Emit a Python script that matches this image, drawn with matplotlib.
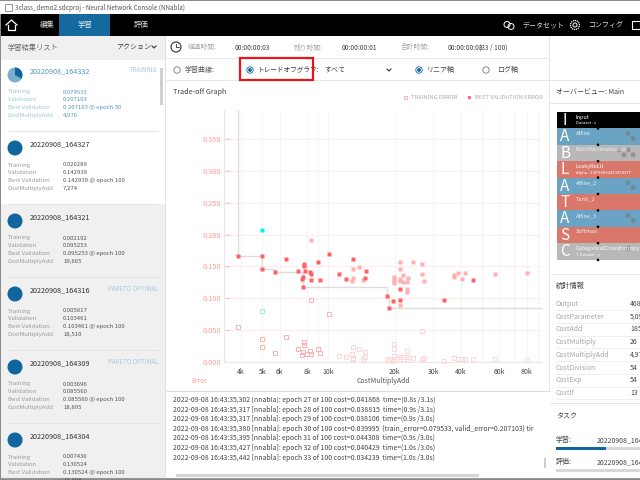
import matplotlib
matplotlib.use("Agg")
import matplotlib.pyplot as plt
from matplotlib.patches import Rectangle, Circle, Wedge
from matplotlib.ticker import NullFormatter

plt.rcParams['font.family'] = ['Noto Sans CJK JP', 'DejaVu Sans']

# validation error of the models nearest the front
val_x = [3888, 5000, 5000, 6408, 5729, 7274, 7764, 7764, 7846, 8241, 8355, 7628, 7577, 8327,
         9118, 8929, 10057, 11125, 12060, 12888, 14663, 14767, 7628, 18510, 19665, 18895,
         21240, 21240, 33570, 45480]
val_y = [.1672, .1667, .1468, .1620, .1416, .1429, .1546, .1515, .1437, .1416, .1390, .1343,
         .1306, .1290, .1290, .1578, .1693, .1390, .1306, .1614, .1327, .1437, .1181, .1035,
         .0953, .0856, .1144, .0982, .0972, .1296]
# validation error of the others
val2_x = [8327, 12888, 12888, 12753, 13820, 14358, 21095, 21240, 21770, 19945, 19945, 19945,
          19945, 21240, 21240, 21915, 22855, 22930, 22855, 22855, 24255, 26560, 26560, 27225,
          21240, 37140, 37140, 38730, 40525, 41680, 57480, 79800]
val2_y = [.1907, .1458, .1317, .1275, .1494, .1285, .1573, .1458, .1374, .1332, .1301, .1270,
          .1238, .1306, .1270, .1264, .1264, .1317, .1155, .1108, .1567, .1536, .1379, .1275,
          .0904, .1369, .1343, .1395, .1311, .1395, .1385, .1400]
# training error
train_x = [3888, 5000, 5000, 5729, 6408, 7274, 7577, 7628, 7764, 7764, 8241, 8355, 7955, 8929,
           9118, 8327, 10057]
train_y = [.0559, .0366, .0246, .0141, .0402, .0203, .0120, .0167, .0313, .0272, .0183, .0131,
           .0131, .0214, .0141, .0982, .0763]
train2_x = [11125, 12060, 12753, 12888, 12888, 12888, 13820, 14358, 14713, 14713, 18510, 18895,
            19665, 19945, 19945, 19945, 19945, 21240, 21240, 21770, 22855, 22855, 22855, 24255,
            26560, 26560, 27225, 33570, 37140, 38730, 40525, 41680, 45480, 57480, 79800]
train2_y = [.0094, .0078, .0125, .0235, .0063, .0047, .0204, .0047, .0157, .0089, .0058, .0037,
            .0022, .0282, .0209, .0104, .0047, .0089, .0047, .0078, .0172, .0078, .0047, .0073,
            .0496, .0047, .0063, .0021, .0063, .0047, .0047, .0047, .0047, .0047, .0042]
# run in progress
current_x = [4976]
current_val = [.207103]
current_train = [.079533]
# pareto front
front_x = [3888, 3888, 5000, 5000, 5729, 5729, 7274, 7628, 7628, 18510, 18510, 18895, 18895, 92800]
front_y = [.395, .1672, .1672, .1468, .1468, .1416, .1416, .1416, .1181, .1181, .1035, .1035, .0856, .0856]

x_ticks = [4000, 5000, 6000, 8000, 10000, 20000, 30000, 40000, 60000, 80000]
x_labels = ['4k', '5k', '6k', '8k', '10k', '20k', '30k', '40k', '60k', '80k']
x_minor = [9000, 50000, 70000, 90000]
y_ticks = [0, .05, .1, .15, .2, .25, .3, .35]

# sidebar cards
card_names = ['20220908_164332', '20220908_164327', '20220908_164321',
              '20220908_164316', '20220908_164309', '20220908_164304']
card_status = ['TRAINING', '', '', 'PARETO OPTIMAL', 'PARETO OPTIMAL', '']
card_training = ['0.079533', '0.020289', '0.002192', '0.005817', '0.003696', '0.007430']
card_valid = ['0.207103', '0.142939', '0.095253', '0.103461', '0.085560', '0.130524']
card_best = ['0.207103 @ epoch 30', '0.142939 @ epoch 100', '0.095253 @ epoch 100',
             '0.103461 @ epoch 100', '0.085560 @ epoch 100', '0.130524 @ epoch 100']
card_cost = ['4,976', '7,274', '19,665', '18,510', '18,895', '18,888']
card_top = [71, 144, 217, 290, 363, 436]

block_letters = ['I', 'A', 'B', 'L', 'A', 'T', 'A', 'S', 'C']
block_names = ['Input', 'Affine', 'BatchNormalization', 'LeakyReLU', 'Affine_2', 'Tanh_2',
               'Affine_3', 'Softmax', 'CategoricalCrossEntropy']
block_notes = ['Dataset : x', '', '', 'Alpha : 1.8730832423354377', '', '', '', '', 'T.Dataset : y']
block_colors = ['#000000', '#6aa3c4', '#b8b8b8', '#d9776a', '#6aa3c4', '#d9776a', '#6aa3c4',
                '#d9776a', '#b8b8b8']
block_badges = [0, 2, 4, 0, 2, 0, 2, 0, 1]

stat_names = ['Output', 'CostParameter', 'CostAdd', 'CostMultiply', 'CostMultiplyAdd',
              'CostDivision', 'CostExp', 'CostIf']
stat_values = ['468', '5,090', '1854', '26', '4,976', '54', '54', '13']

log_lines = [
    '2022-09-08 16:43:35,302 [nnabla]: epoch 27 of 100 cost=0.041868  time=(0.8s /3.1s)',
    '2022-09-08 16:43:35,317 [nnabla]: epoch 28 of 100 cost=0.038815  time=(0.9s /3.1s)',
    '2022-09-08 16:43:35,317 [nnabla]: epoch 29 of 100 cost=0.038106  time=(0.9s /3.0s)',
    '2022-09-08 16:43:35,380 [nnabla]: epoch 30 of 100 cost=0.039995  {train_error=0.079533, valid_error=0.207103} tir',
    '2022-09-08 16:43:35,395 [nnabla]: epoch 31 of 100 cost=0.044308  time=(0.9s /3.0s)',
    '2022-09-08 16:43:35,427 [nnabla]: epoch 32 of 100 cost=0.040429  time=(1.0s /3.0s)',
    '2022-09-08 16:43:35,442 [nnabla]: epoch 33 of 100 cost=0.034239  time=(1.0s /3.0s)',
]

BLUE = '#0f659c'
TEXT = '#444444'
FAINT = '#a8a8a8'
LINE = '#e6e6e6'

fig = plt.figure(figsize=(6.4, 4.8), dpi=100)

# window chrome is drawn in pixel coordinates
ui = fig.add_axes([0, 0, 1, 1])
ui.set_xlim(0, 640)
ui.set_ylim(480, 0)
ui.axis('off')


def box(x0, y0, x1, y1, color, **kw):
    ui.add_patch(Rectangle((x0, y0), x1 - x0, y1 - y0, facecolor=color, edgecolor='none', **kw))


def hline(y, x0, x1, color=LINE, lw=0.7):
    ui.plot([x0, x1], [y, y], color=color, lw=lw, solid_capstyle='butt')


def label(x, y, s, size=4.8, color=TEXT, **kw):
    kw.setdefault('va', 'center')
    return ui.text(x, y, s, fontsize=size, color=color, clip_on=True, **kw)


def radio(x, y, on=False):
    ui.add_patch(Circle((x, y), 3.2, facecolor='white', edgecolor=BLUE if on else '#777777', lw=0.6))
    if on:
        ui.add_patch(Circle((x, y), 1.9, facecolor=BLUE, edgecolor='none'))


def chevron(x, y, color='#333333'):
    ui.plot([x - 2, x, x + 2], [y - 1, y + 1, y - 1], color=color, lw=0.8)


# title bar and menu
box(0, 0, 640, 1, '#8a8a8a')
box(0, 14, 640, 36, '#000000')
box(59, 14, 110, 36, '#146a9e')
ui.add_patch(Rectangle((5, 4), 7, 7, facecolor='white', edgecolor='#666666', lw=0.5))
label(15, 8, '3class_demo2.sdcproj - Neural Network Console (NNabla)', 4.5, '#555555')
label(40, 25.5, '編集', 5.3, '#dddddd')
label(78, 25.5, '学習', 5.3, '#eeeeee')
label(134, 25.5, '評価', 5.3, '#dddddd')
ui.plot([6, 11.5, 17], [25, 20, 25], color='white', lw=0.9)
ui.plot([8, 8, 15, 15], [25, 30, 30, 25], color='white', lw=0.9)
ui.add_patch(Circle((507, 24.5), 3, facecolor='none', edgecolor='white', lw=0.7))
ui.add_patch(Circle((511, 26.5), 3, facecolor='none', edgecolor='white', lw=0.7))
label(522, 25.5, 'データセット', 5, '#dddddd')
ui.add_patch(Circle((575, 25), 4.5, facecolor='none', edgecolor='white', lw=0.9, ls=(0, (1, 0.6))))
ui.add_patch(Circle((575, 25), 2, facecolor='none', edgecolor='white', lw=0.7))
label(589, 25.5, 'コンフィグ', 5, '#dddddd')
ui.add_patch(Rectangle((632, 21), 8, 8, facecolor='none', edgecolor='white', lw=0.8))

# sidebar
box(0, 36, 166, 60, '#f0f0f0')
box(0, 204, 166, 480, '#f0f0f0')
box(0, 14, 1, 480, '#8a8a8a')
box(165, 36, 166, 480, '#e2e2e2')
label(8, 47.5, '学習結果リスト', 5.2, '#666666')
label(116, 47.5, 'アクション', 5, '#444444')
chevron(154, 47)
box(160, 68, 163, 105, '#d0d0d0')
for i, top in enumerate(card_top):
    first = i == 0
    head_color = '#4f97c2' if first else '#333333'
    ui.add_patch(Circle((15, top + 4), 7.5, facecolor='#79aecd' if first else BLUE, edgecolor='none'))
    if first:
        ui.add_patch(Wedge((15, top + 4), 7.5, 270, 390, facecolor=BLUE, edgecolor='none'))
    label(30, top, card_names[i], 5.2, head_color)
    if card_status[i]:
        label(158, top - 1, card_status[i], 4.4, '#a5cbe2', ha='right')
    rows = zip(['Training', 'Validation', 'Best Validation', 'CostMultiplyAdd'], [21, 28.5, 36.5, 44.5],
               [card_training[i], card_valid[i], card_best[i], card_cost[i]])
    for name, dy, value in rows:
        label(8, top + dy, name, 4.3, '#9fc4da' if first else '#9a9a9a')
        label(63, top + dy, value, 4.3, '#4f97c2' if first else '#555555')
    hline(top + 60, 8, 158, '#e4e4e4', 0.8)

# status rows
hline(58, 166, 549)
hline(80, 166, 640)
box(549, 36, 550, 392, LINE)
ui.add_patch(Circle((176, 47), 5, facecolor='none', edgecolor='#333333', lw=0.8))
ui.plot([176, 176, 179], [43.5, 47, 47], color='#333333', lw=0.6)
label(188, 47.5, '経過時間:', 4.9, FAINT)
label(235, 47.5, '00:00:00:03', 4.8, TEXT)
label(294, 47.5, '残り時間:', 4.9, FAINT)
label(342, 47.5, '00:00:00:01', 4.8, TEXT)
label(401, 47.5, '合計時間:', 4.9, FAINT)
label(448, 47.5, '00:00:00:03', 4.8, TEXT)
label(479, 47.5, '(33 / 100)', 4.8, TEXT)
radio(177, 70)
label(185, 70, '学習曲線:', 5, '#555555')
radio(250, 70, True)
label(258, 70, 'トレードオフグラフ:', 4.8, '#333333')
ui.add_patch(Rectangle((240, 58), 73, 22, facecolor='none', edgecolor='#e8141c', lw=1.6, zorder=5))
label(324, 70, 'すべて', 5, '#444444')
chevron(389, 70)
radio(419, 70, True)
label(427, 70, 'リニア軸', 5, '#444444')
radio(486, 70)
label(497, 70, 'ログ軸', 5, '#444444')

# chart header
label(173, 92, 'Trade-off Graph', 5.2, '#444444')
ui.add_patch(Rectangle((403.5, 95.5), 3, 3, facecolor='white', edgecolor='#ffb0b0', lw=0.7))
label(411, 97.5, 'TRAINING ERROR', 4.1, '#aaaaaa')
box(467.5, 95.5, 470.5, 98.5, '#ff6b6e')
label(475, 97.5, 'BEST VALIDATION ERROR', 4.1, '#aaaaaa')
label(191, 381, 'Error', 4.8, '#ff9a9a')
label(383, 381, 'CostMultiplyAdd', 5, '#555555', ha='center')

# log pane
hline(391, 166, 550, '#dddddd', 0.8)
for y, line in zip([400, 409.5, 419, 429, 438.5, 448, 458], log_lines):
    label(173, y, line, 4.95, '#444444')
box(166, 392, 550, 397, 'white', zorder=3)
box(176, 474, 479, 476.5, '#d4d4d4')
box(544, 458, 546, 468, '#cccccc')
hline(478, 0, 640, '#999999', 0.8)
box(0, 479, 640, 480, '#8a8a8a')

# right panel
label(556, 92, 'オーバービュー: Main', 5, '#444444')
hline(103, 550, 640)
for i, color in enumerate(block_colors):
    y0 = 112 + i * 16.4
    box(557, y0, 640, y0 + 16.4, color)
    label(565, y0 + 8.5, block_letters[i], 11, 'white', ha='center')
    if block_notes[i]:
        label(576, y0 + 5, block_names[i], 4, 'white')
        label(576, y0 + 11.5, block_notes[i], 3, 'white')
    else:
        label(576, y0 + 5, block_names[i], 4, '#eeeeee')
    for k in range(block_badges[i]):
        ui.add_patch(Circle((628 + (k % 2) * 5 - (k // 2) * 9, y0 + 5 + (k % 2) * 5), 2.6,
                            facecolor='#777777', edgecolor='none', alpha=0.55))
    ui.add_patch(Circle((598, y0 + 16.4 if i < 8 else 260), 1.3, facecolor='black', edgecolor='none', zorder=4))
hline(274, 550, 640)
label(556, 286, '統計情報', 5.2, '#444444')
for i, name in enumerate(stat_names):
    y = 304 + i * 12.7
    label(556, y, name, 5, '#a5a5a5')
    label(630, y, stat_values[i], 5, '#444444')
    hline(y + 6.3, 556, 640, '#ececec', 0.6)
hline(403, 550, 640)
label(556, 417, 'タスク', 5, '#444444', style='italic')
label(556, 440, '学習:', 5, '#444444')
label(597, 440, '20220908_164332', 5, '#444444')
box(556, 447, 640, 450, '#d8d8d8')
box(556, 447, 606, 450, BLUE)
label(556, 462, '評価:', 5, '#444444')
label(597, 462, '20220908_164332', 5, '#444444')
box(556, 469, 640, 472, '#d8d8d8')

# trade-off chart
ax = fig.add_axes([224 / 640, 1 - 362.3 / 480, 317 / 640, 252.3 / 480])
ax.patch.set_alpha(0)
ax.set_xscale('log')
ax.set_xlim(3347, 92800)
ax.set_ylim(0, 0.395)
ax.set_xticks(x_ticks)
ax.set_xticklabels(x_labels)
ax.set_xticks(x_minor, minor=True)
ax.xaxis.set_minor_formatter(NullFormatter())
ax.set_yticks(y_ticks)
ax.set_yticklabels(['%.3f' % v for v in y_ticks])
ax.tick_params(axis='x', which='major', length=0, labelsize=5, labelcolor='#444444', pad=4)
ax.tick_params(axis='x', which='minor', length=0)
ax.tick_params(axis='y', length=4, width=0.8, color='#ffc4c4', direction='in', labelsize=5.3,
               labelcolor='#ff9a9a', pad=2)
ax.grid(True, axis='x', which='both', color='#f4f4f4', lw=0.7)
ax.grid(True, axis='y', color='#ffecec', lw=0.9)
ax.set_axisbelow(True)
for side in ['top', 'right']:
    ax.spines[side].set_visible(False)
for side in ['left', 'bottom']:
    ax.spines[side].set_color('#e8e8e8')
    ax.spines[side].set_linewidth(0.8)

ax.plot(front_x, front_y, color='#dcdcdc', lw=1.0, clip_on=False, zorder=2)
ax.plot(train2_x, train2_y, 's', ms=3.2, mfc='none', mec='#ffd6d6', mew=0.7, clip_on=False, zorder=3)
ax.plot(train_x, train_y, 's', ms=3.2, mfc='none', mec='#ffb0b0', mew=0.7, clip_on=False, zorder=3)
ax.plot(val2_x, val2_y, 's', ms=3.2, mfc='#ffb0b2', mec='none', zorder=4)
ax.plot(val_x, val_y, 's', ms=3.2, mfc='#ff6266', mec='none', zorder=5)
ax.plot(current_x, current_val, 's', ms=3.2, mfc='#00f4f4', mec='none', zorder=6)
ax.plot(current_x, current_train, 's', ms=3.2, mfc='none', mec='#90eeee', mew=0.7, zorder=6)

fig.savefig('out.png', dpi=100)
